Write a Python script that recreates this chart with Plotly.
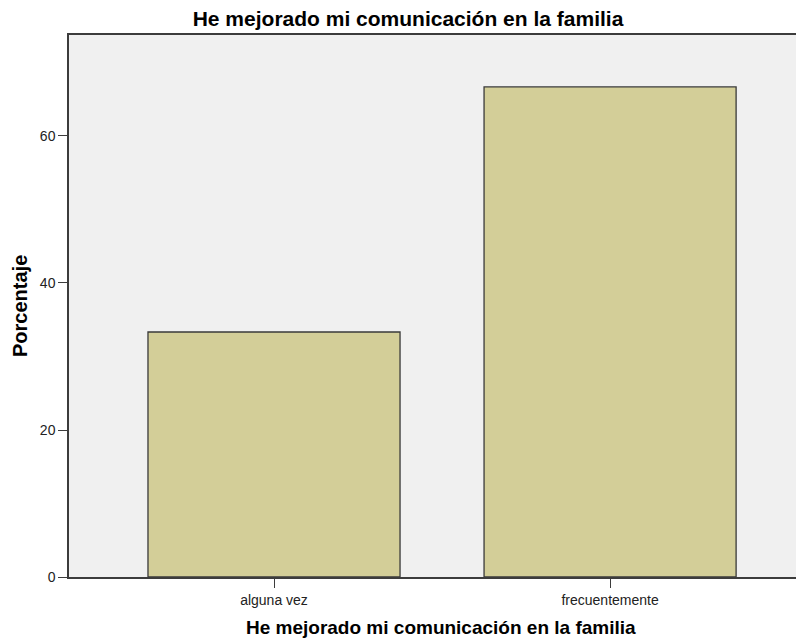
import plotly.graph_objects as go

# datos
categorias = ['alguna vez', 'frecuentemente']
porcentajes = [33.33, 66.67]
y_ticks = [0, 20, 40, 60]

titulo = 'He mejorado mi comunicación en la familia'

# la pagina deja 8px de margen, por eso se resta 8 a todo
OFF = 8
W, H = 804 - OFF, 644 - OFF
L, R, T, B = 69 - OFF, 0, 35 - OFF, 644 - 577
PW, PH = W - L - R, H - T - B

fig = go.Figure()
fig.add_trace(go.Bar(
    x=categorias,
    y=porcentajes,
    width=0.75,
    marker=dict(color='#d3ce98', line=dict(color='#3a3a3a', width=1.3)),
    hoverinfo='skip',
))

fig.update_layout(
    width=W, height=H,
    margin=dict(l=L, r=R, t=T, b=B),
    paper_bgcolor='white',
    plot_bgcolor='#f0f0f0',
    showlegend=False,
    font=dict(family='Liberation Sans, Arial, sans-serif', color='#111111'),
    title=dict(text='<b>' + titulo + '</b>', xref='container', yref='container',
               x=(408 - OFF) / W, xanchor='center', y=1 - (19 - OFF) / H, yanchor='middle',
               font=dict(size=21, color='#000000')),
)

fig.update_xaxes(
    range=[-0.61, 1.577],
    showgrid=False, zeroline=False,
    showline=True, linecolor='#3c3c3c', linewidth=1.5, mirror=True,
    ticks='outside', ticklen=9, tickwidth=1.2, tickcolor='#3c3c3c',
    tickfont=dict(size=14, color='#222222'),
)
fig.update_yaxes(
    range=[0, 73.74],
    tickvals=y_ticks,
    showgrid=False, zeroline=False,
    showline=True, linecolor='#3c3c3c', linewidth=1.5,
    ticks='outside', ticklen=9, tickwidth=1.2, tickcolor='#3c3c3c',
    tickfont=dict(size=14, color='#222222'),
)

# titulos de ejes
fig.add_annotation(text='<b>' + titulo + '</b>', xref='paper', yref='paper',
                   x=(441 - 69) / PW, y=-(627 - 577) / PH,
                   xanchor='center', yanchor='middle', showarrow=False,
                   font=dict(size=19, color='#000000'))
fig.add_annotation(text='<b>Porcentaje</b>', xref='paper', yref='paper',
                   x=-(69 - 20) / PW, y=(577 - 306) / PH,
                   xanchor='center', yanchor='middle', textangle=-90, showarrow=False,
                   font=dict(size=20, color='#000000'))

fig.write_html("out.html")
